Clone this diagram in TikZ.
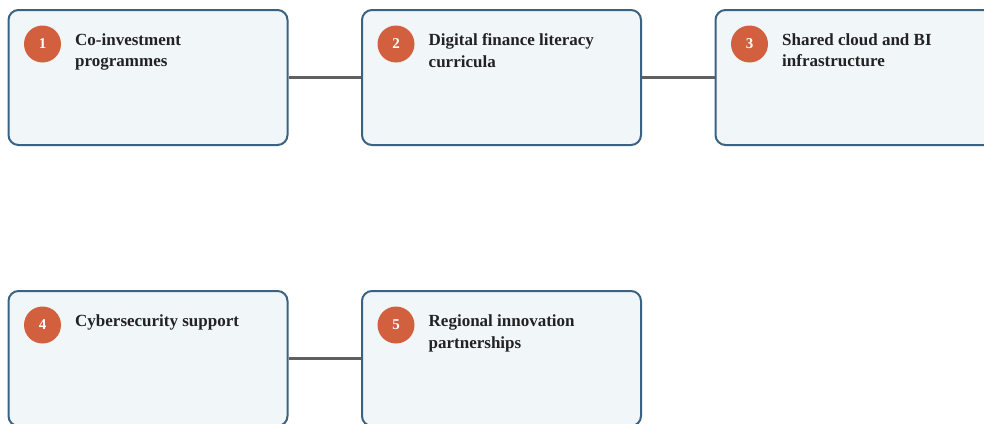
\documentclass[tikz,border=0pt]{standalone}
\usepackage{fontspec}
\setmainfont{Liberation Serif}
\usetikzlibrary{positioning}
\definecolor{boxfill}{HTML}{F1F6F9}
\definecolor{boxline}{HTML}{3A6282}
\definecolor{numfill}{HTML}{D2603E}
\definecolor{linkgray}{HTML}{606060}
\definecolor{txt}{HTML}{222222}

\begin{document}
\begin{tikzpicture}[x=1pt, y=-1pt,
    stepbox/.style={draw=boxline, fill=boxfill, line width=2pt, rounded corners=10pt, minimum width=279pt, minimum height=135pt, inner sep=0pt},
    num/.style    ={circle, fill=numfill, minimum size=37pt, inner sep=0pt, text=white, font=\fontsize{15}{15}\selectfont\bfseries},
    lbl/.style    ={anchor=north west, align=left, inner sep=0pt, text=txt, font=\fontsize{17}{21.5}\selectfont\bfseries},
    link/.style   ={draw=linkgray, line width=3pt}]
    \useasboundingbox (0,0) rectangle (984,423);
    % top row
    \node[stepbox] (s1) at (148,77.5) {};
    \node[stepbox, right=72.5pt of s1] (s2) {};
    \node[stepbox, right=72.5pt of s2] (s3) {};
    % bottom row
    \node[stepbox, below=144pt of s1] (s4) {};
    \node[stepbox, right=72.5pt of s4] (s5) {};
    % badges
    \node[num] (n1) at ([xshift=35pt,yshift=-35pt]s1.north west) {1};
    \node[num] (n2) at ([xshift=35pt,yshift=-35pt]s2.north west) {2};
    \node[num] (n3) at ([xshift=35pt,yshift=-35pt]s3.north west) {3};
    \node[num] (n4) at ([xshift=35pt,yshift=-35pt]s4.north west) {4};
    \node[num] (n5) at ([xshift=35pt,yshift=-35pt]s5.north west) {5};
    % labels
    \node[lbl] (t1) at ([xshift=67.5pt,yshift=-24.5pt]s1.north west) {Co-investment\\programmes};
    \node[lbl] (t2) at ([xshift=67.5pt,yshift=-24.5pt]s2.north west) {Digital finance literacy\\curricula};
    \node[lbl] (t3) at ([xshift=67.5pt,yshift=-24.5pt]s3.north west) {Shared cloud and BI\\infrastructure};
    \node[lbl] (t4) at ([xshift=67.5pt,yshift=-24.5pt]s4.north west) {Cybersecurity support};
    \node[lbl] (t5) at ([xshift=67.5pt,yshift=-24.5pt]s5.north west) {Regional innovation\\partnerships};
    % links
    \draw[link] (s1.east) -- (s2.west);
    \draw[link] (s2.east) -- (s3.west);
    \draw[link] (s4.east) -- (s5.west);
\end{tikzpicture}
\end{document}
